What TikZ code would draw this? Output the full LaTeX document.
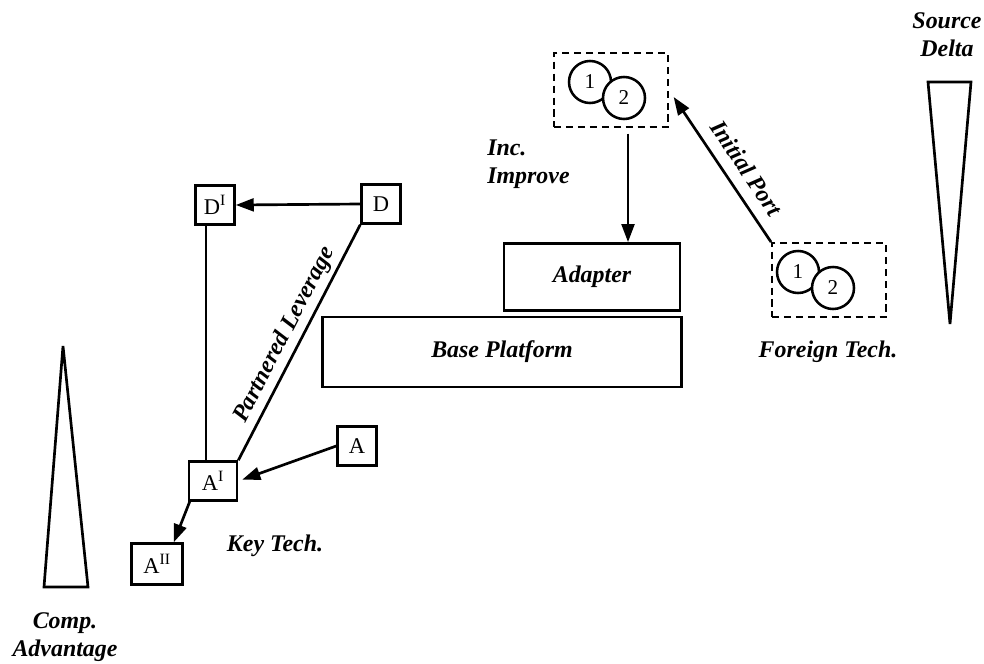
\documentclass[tikz,border=0pt]{standalone}
\usepackage{fontspec}
\setmainfont{Liberation Serif}
\usetikzlibrary{arrows.meta,positioning}

\begin{document}
\begin{tikzpicture}[
  x=0.025cm, y=-0.025cm,
  tech/.style={
    draw,
    line width=1.9pt,
    minimum width=0.97cm,
    minimum height=0.97cm,
    inner sep=1pt,
    font=\fontsize{16}{18}\selectfont
  },
  layer/.style={
    draw,
    line width=1.9pt,
    font=\fontsize{17}{20}\selectfont\bfseries\itshape
  },
  bundle/.style={
    draw,
    dash pattern=on 5pt off 3.5pt,
    line width=1.3pt,
    minimum width=2.85cm,
    minimum height=1.85cm
  },
  part/.style={
    circle,
    draw,
    line width=1.8pt,
    fill=white,
    minimum size=1.05cm,
    inner sep=0pt,
    font=\fontsize{15}{17}\selectfont
  },
  caption/.style={
    font=\fontsize{17}{20}\selectfont\bfseries\itshape,
    align=center,
    inner sep=0pt
  },
  link/.style={line width=1.9pt},
  flow/.style={link,-{Triangle[length=4.5mm,width=3.2mm]}},
  wedge/.style={draw,line width=1.9pt,line join=miter}
]
  \useasboundingbox (0,0) rectangle (984,663);

  % platform layers
  \node[layer,minimum width=8.975cm,minimum height=1.75cm] (base) at (502,352)
    {Base Platform};
  \node[layer,minimum width=4.4cm,minimum height=1.675cm] (adapter) at (592,277)
    {Adapter};

  % key technologies
  \node[tech] (D) at (381,204) {D};
  \node[tech] (D1) at (215,205) {D\textsuperscript{I}};
  \node[tech] (A) at (357,446) {A};
  \node[tech,minimum width=1.2cm] (A1) at (213,481) {A\textsuperscript{I}};
  \node[tech,minimum width=1.27cm,minimum height=1.02cm] (A2) at (157,564)
    {A\textsuperscript{II}};
  \node[caption] (key-tech) at (275,546) {Key Tech.};

  % imported technology bundles
  \node[bundle] (ported) at (611,90) {};
  \node[part] (ported-one) at (590,82) {1};
  \node[part] (ported-two) at (624,98) {2};
  \node[bundle] (foreign) at (829,280) {};
  \node[part] (foreign-one) at (798,272) {1};
  \node[part] (foreign-two) at (833,288) {2};
  \node[caption] (foreign-tech) at (828,352) {Foreign Tech.};
  \node[caption,align=left,anchor=west] (inc-improve) at (487,164)
    {Inc.\\Improve};

  % scales
  \draw[wedge] (44,587) -- (63,346) -- (88,587) -- cycle;
  \draw[wedge] (928,82) -- (971,82) -- (950,324) -- cycle;
  \node[caption] (comp-adv) at (65,637) {Comp.\\Advantage};
  \node[caption] (source-delta) at (947,35) {Source\\Delta};

  % connectors
  \draw[flow] (D.west) -- (D1.east);
  \draw[link] ([xshift=-0.225cm]D1.south) -- ([xshift=-0.225cm]D1.south |- A1.north);
  \draw[link] (D.south west) -- node[caption,sloped,above=3pt] {Partnered Leverage}
    (A1.north east);
  \draw[flow,shorten >=3pt] (A.west) -- (A1.east);
  \draw[flow] ([xshift=0.05cm]A1.south west) -- ([xshift=-0.25cm]A2.north east);
  \draw[flow,shorten <=4pt] ([xshift=0.425cm]ported.south)
    -- ([xshift=0.425cm]ported.south |- adapter.north);
  \draw[flow,shorten >=6pt] (foreign.north west) -- node[caption,sloped,above=8pt,pos=0.41]
    {Initial Port} (ported.east);
\end{tikzpicture}
\end{document}
